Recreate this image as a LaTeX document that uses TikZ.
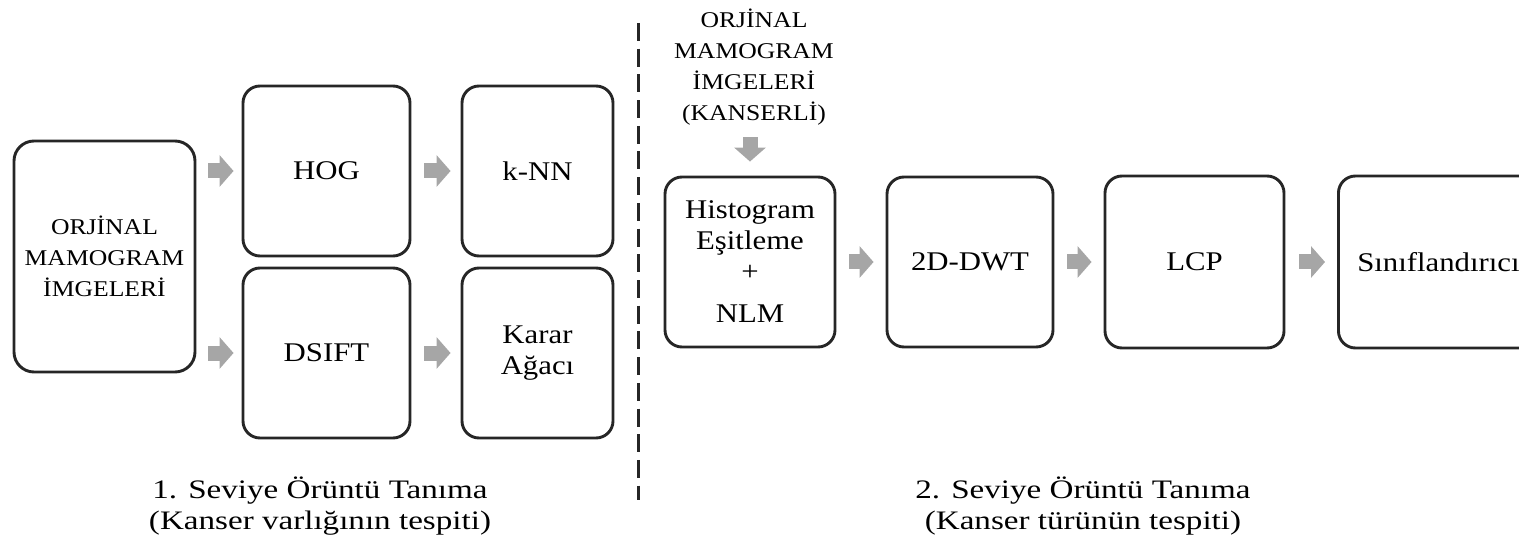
\documentclass[tikz,border=0pt]{standalone}
\usepackage{fontspec}
\setmainfont{Liberation Serif}[FakeStretch=1.14]
\newfontfamily\capfont{Liberation Serif}[FakeStretch=1.24]
\usetikzlibrary{arrows.meta}
\definecolor{edge}{HTML}{262626}
\definecolor{flow}{HTML}{A6A6A6}
\begin{document}
\begin{tikzpicture}[x=1bp,y=-1bp,
  stage/.style={draw=edge, line width=2.9bp, rounded corners=17bp, align=center,
    inner sep=0pt, font=\fontsize{27bp}{31bp}\selectfont},
  source/.style={align=center, inner sep=0pt, font=\fontsize{22.5bp}{31bp}\selectfont},
  flowarrow/.style={draw=flow, line width=15bp, -{Triangle[length=14bp,width=31bp]}},
  caption/.style={align=center, inner sep=0pt, font=\capfont\fontsize{26.7bp}{31bp}\selectfont}]
\useasboundingbox (0,0) rectangle (1519,554);

% level 1: presence of cancer
\node[stage, rounded corners=20bp, minimum width=181bp, minimum height=231bp,
  font=\fontsize{22.5bp}{31bp}\selectfont] (orj) at (104.5,256.5) {ORJİNAL\\MAMOGRAM\\İMGELERİ};
\node[stage, minimum width=167bp, minimum height=170bp] (hog) at (326.5,171) {HOG};
\node[stage, minimum width=167bp, minimum height=170bp] (dsift) at (326.5,353) {DSIFT};
\node[stage, minimum width=151bp, minimum height=170bp] (knn) at (537.5,171) {k-NN};
\node[stage, minimum width=151bp, minimum height=170bp] (karar) at (537.5,353) {Karar\\Ağacı};

\draw[flowarrow, shorten <=12bp, shorten >=8bp] (orj.east |- hog.west) -- (hog.west);
\draw[flowarrow, shorten <=12bp, shorten >=8bp] (orj.east |- dsift.west) -- (dsift.west);
\draw[flowarrow, shorten <=13bp, shorten >=10bp] (hog.east) -- (knn.west);
\draw[flowarrow, shorten <=13bp, shorten >=10bp] (dsift.east) -- (karar.west);

\node[caption] (cap1) at (320,506) {1. Seviye Örüntü Tanıma\\(Kanser varlığının tespiti)};

% divider
\coordinate (dtop) at (638,23);
\coordinate (dbot) at (638,500);
\draw[draw=edge, line width=3bp, dash pattern=on 18bp off 7.7bp] (dtop) -- (dbot);

% level 2: type of cancer
\node[source] (raw) at (754,67) {ORJİNAL\\MAMOGRAM\\İMGELERİ\\(KANSERLİ)};
\node[stage, minimum width=170bp, minimum height=170bp] (hist) at (750,262)
  {Histogram\\Eşitleme\\+\\[11bp]NLM};
\node[stage, minimum width=166bp, minimum height=170bp] (dwt) at (970,262) {2D-DWT};
\node[stage, minimum width=179bp, minimum height=172bp] (lcp) at (1194.5,262) {LCP};
\begin{scope}
  \clip (0,0) rectangle (1519,554);
  \node[stage, anchor=west, minimum width=200bp, minimum height=172bp] (sin) at (1337,262) {Sınıflandırıcı};
\end{scope}

\draw[flowarrow, shorten <=12bp, shorten >=14bp] (raw.south -| hist.north) -- (hist.north);
\draw[flowarrow, shorten <=13bp, shorten >=12bp] (hist.east) -- (dwt.west);
\draw[flowarrow, shorten <=13bp, shorten >=12bp] (dwt.east) -- (lcp.west);
\draw[flowarrow, shorten <=14bp, shorten >=12bp] (lcp.east) -- (sin.west);

\node[caption] (cap2) at (1083,506) {2. Seviye Örüntü Tanıma\\(Kanser türünün tespiti)};
\end{tikzpicture}
\end{document}
